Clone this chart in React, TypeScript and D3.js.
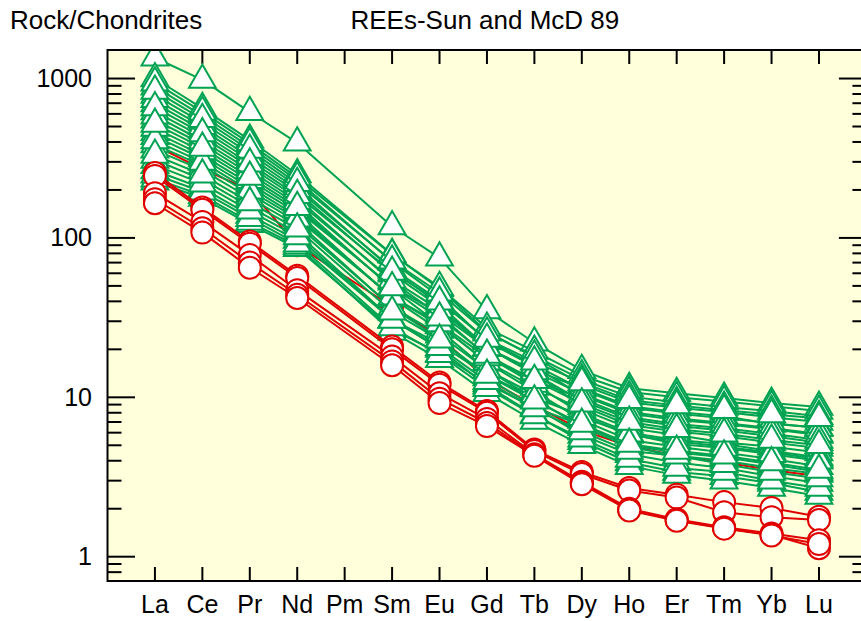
import React from "react";
import * as d3 from "d3";

// Chondrite-normalised REE spider diagram (Sun & McDonough 1989)
const ELEMENTS = ["La", "Ce", "Pr", "Nd", "Pm", "Sm", "Eu", "Gd", "Tb", "Dy", "Ho", "Er", "Tm", "Yb", "Lu"];
const Y_MAJOR = [1, 10, 100, 1000];
const Y_LABEL = "Rock/Chondrites";
const TITLE = "REEs-Sun and McD 89";

// Sample drawn beneath the triangle group (circle symbol)
const redEarly: (number | null)[][] = [
  [380, 270, 200, 90, null, 37, 24, 13, 8.9, 6.2, 4.95, 4.3, 3.9, 3.5, 3.2],
];

// Triangle group, in plotting order
const greenSamples: (number | null)[][] = [
  [1350, 980, 615, 395, null, 118, 75, 35, 22, 14.8, 11.4, 10.6, 9.9, 9.2, 8.7],
  [460, 331, 218, 144, null, 41.9, 26.4, 14.9, 9.8, 6.5, 4.9, 4.3, 4.0, 3.6, 3.3],
  [887, 586, 373, 230, null, 70.8, 42.9, 22.4, 15.6, 10.3, 7.9, 7.2, 6.8, 6.3, 5.8],
  [265, 205, 139, 97, null, 30.7, 21.6, 13.8, 9.9, 7.7, 5.8, 5.3, 4.9, 4.5, 4.1],
  [698, 476, 307, 194, null, 59.7, 37.1, 20.5, 14.0, 9.5, 7.3, 6.6, 6.2, 5.7, 5.2],
  [385, 284, 189, 126, null, 36.5, 23.3, 13.3, 8.7, 5.8, 4.4, 3.9, 3.6, 3.2, 2.9],
  [1000, 650, 411, 250, null, 79, 48.1, 25.8, 17.9, 12.0, 9.3, 8.6, 8.1, 7.5, 7.0],
  [551, 387, 253, 163, null, 48.1, 28.5, 16.5, 10.9, 7.2, 5.4, 4.9, 4.5, 4.1, 3.7],
  [225, 178, 122, 86, null, 26.7, 18.9, 12.2, 8.6, 6.7, 5.0, 4.5, 4.2, 3.8, 3.4],
  [787, 528, 339, 211, null, 63.2, 38.2, 20.5, 14.1, 8.8, 6.7, 6.1, 5.7, 5.2, 4.8],
  [434, 315, 208, 137, null, 42.8, 28.2, 16.7, 11.6, 8.4, 6.4, 5.8, 5.2, 4.9, 4.5],
  [621, 430, 279, 178, null, 53.1, 32.8, 18.1, 12.1, 7.9, 6.0, 5.4, 5.1, 4.6, 4.2],
  [308, 233, 157, 107, null, 30.9, 20.1, 11.8, 7.8, 5.3, 3.9, 3.4, 3.2, 2.9, 2.55],
  [942, 617, 392, 239, null, 78.5, 49.1, 27.2, 19.5, 13.7, 10.8, 10.0, 9.4, 8.8, 8.2],
  [489, 349, 230, 150, null, 49.6, 33.5, 20.3, 14.8, 11.4, 8.8, 8.1, 7.6, 6.8, 6.5],
  [235, 185, 126, 89, null, 25.7, 17.3, 10.6, 7.1, 5.0, 3.7, 3.25, 3.0, 2.7, 2.4],
  [741, 501, 322, 202, null, 64.4, 40.5, 22.8, 16.0, 11.2, 8.6, 7.9, 7.4, 6.9, 6.4],
  [357, 266, 178, 120, null, 36.9, 24.7, 14.9, 10.4, 7.5, 5.9, 5.1, 4.8, 4.4, 4.0],
  [585, 407, 265, 170, null, 54.5, 35.4, 20.5, 14.5, 10.5, 8.1, 7.4, 6.9, 6.4, 5.9],
  [249, 195, 133, 92, null, 27.4, 18.6, 11.4, 7.7, 5.5, 4.1, 3.6, 3.4, 3.0, 2.7],
  [836, 556, 356, 220, null, 71.8, 45.3, 25.4, 18.2, 12.9, 10.1, 9.3, 8.7, 8.2, 7.6],
  [408, 299, 198, 132, null, 42.7, 29.0, 17.8, 12.8, 9.8, 7.5, 6.8, 6.4, 5.9, 5.4],
  [659, 452, 292, 185, null, 61.1, 39.8, 23.2, 16.7, 12.4, 9.6, 8.9, 8.3, 7.8, 7.4],
  [286, 219, 148, 102, null, 30.5, 20.6, 12.6, 8.5, 6.1, 4.6, 4.3, 3.8, 3.4, 3.1],
  [519, 367, 241, 156, null, 48.9, 31.6, 18.4, 12.8, 9.1, 7.0, 6.3, 5.9, 5.4, 5.0],
  [331, 249, 167, 114, null, 34.4, 23.0, 13.8, 9.5, 6.8, 5.1, 4.6, 4.3, 3.9, 3.5],
];

// Circle group drawn on top
const redSamples: (number | null)[][] = [
  [255, 155, 95, 58, null, 20.8, 12.4, 8.2, 4.7, 3.4, 2.7, 2.45, 2.2, 2.02, 1.78],
  [245, 150, 92, 56, null, 20, 12, 8.0, 4.6, 3.3, 2.6, 2.35, 1.9, 1.77, 1.7],
  [191, 126, 78, 47, null, 18, 10.6, 7.3, 4.4, 2.95, 2.0, 1.72, 1.53, 1.4, 1.27],
  [175, 115, 70, 44, null, 16.8, 9.8, 6.9, 4.35, 2.9, 1.96, 1.7, 1.51, 1.37, 1.13],
  [165, 108, 65, 42, null, 15.9, 9.2, 6.6, 4.3, 2.85, 1.95, 1.68, 1.5, 1.36, 1.2],
];

const GREEN = "#00a352";
const RED = "#e00000";
const BG = "#ffffdc";
const FONT = "'Liberation Sans', Arial, Helvetica, sans-serif";

const W = 861;
const H = 621;
const plot = { left: 107.5, top: 50, right: 866.4, bottom: 581 };

const x = d3.scaleLinear().domain([0, ELEMENTS.length + 1]).range([plot.left, plot.right]);
const y = d3.scaleLog().domain([0.704, 1510]).range([plot.bottom, plot.top]);

const minorTicks: number[] = [0.8, 0.9];
[1, 10, 100].forEach((d) => {
  for (let k = 2; k <= 9; k++) minorTicks.push(d * k);
});

const line = d3
  .line<[number, number]>()
  .x((p) => x(p[0]))
  .y((p) => y(p[1]));

const TRIANGLE = "M0,-15.5L13.4,7.75L-13.4,7.75Z";

type Kind = "tri" | "circ";

function Sample({ values, color, kind }: { values: (number | null)[]; color: string; kind: Kind }) {
  const pts: [number, number][] = [];
  values.forEach((v, i) => {
    if (v != null) pts.push([i + 1, v]);
  });
  return (
    <g>
      <path d={line(pts) || ""} fill="none" stroke={color} strokeWidth={2} strokeLinejoin="round" />
      {pts.map(([i, v], k) =>
        kind === "tri" ? (
          <path
            key={k}
            d={TRIANGLE}
            transform={`translate(${x(i)},${y(v)})`}
            fill="#ffffff"
            stroke={color}
            strokeWidth={2}
            strokeLinejoin="miter"
          />
        ) : (
          <circle key={k} cx={x(i)} cy={y(v)} r={11} fill="#ffffff" stroke={color} strokeWidth={2} />
        )
      )}
    </g>
  );
}

export default function App() {
  return (
    <svg
      width={W}
      height={H}
      style={{ position: "absolute", left: 0, top: 0, background: "#ffffff" }}
      fontFamily={FONT}
    >
      <defs>
        <clipPath id="plotArea">
          <rect x={plot.left} y={plot.top} width={plot.right - plot.left} height={plot.bottom - plot.top} />
        </clipPath>
      </defs>
      <rect x={plot.left} y={plot.top} width={plot.right - plot.left} height={plot.bottom - plot.top} fill={BG} />

      {/* ticks */}
      <g stroke="#000" strokeWidth={2}>
        {Y_MAJOR.map((t) => (
          <g key={"M" + t}>
            <line x1={plot.left} x2={plot.left + 27.5} y1={y(t)} y2={y(t)} />
            <line x1={plot.right} x2={plot.right - 27.5} y1={y(t)} y2={y(t)} />
          </g>
        ))}
        {minorTicks.map((t) => (
          <g key={"m" + t}>
            <line x1={plot.left} x2={plot.left + 14} y1={y(t)} y2={y(t)} />
            <line x1={plot.right} x2={plot.right - 14} y1={y(t)} y2={y(t)} />
          </g>
        ))}
        {ELEMENTS.map((el, i) => (
          <g key={"x" + el}>
            <line x1={x(i + 1)} x2={x(i + 1)} y1={plot.bottom} y2={plot.bottom - 14} />
            <line x1={x(i + 1)} x2={x(i + 1)} y1={plot.top} y2={plot.top + 14} />
          </g>
        ))}
      </g>

      {/* data */}
      <g clipPath="url(#plotArea)">
        {redEarly.map((s, i) => (
          <Sample key={"re" + i} values={s} color={RED} kind="circ" />
        ))}
        {greenSamples.map((s, i) => (
          <Sample key={"g" + i} values={s} color={GREEN} kind="tri" />
        ))}
        {redSamples.map((s, i) => (
          <Sample key={"r" + i} values={s} color={RED} kind="circ" />
        ))}
      </g>

      <rect
        x={plot.left}
        y={plot.top}
        width={plot.right - plot.left}
        height={plot.bottom - plot.top}
        fill="none"
        stroke="#000"
        strokeWidth={2}
      />

      {/* labels */}
      {Y_MAJOR.map((t) => (
        <text key={"yl" + t} x={92} y={y(t) + 8.5} fontSize={25} textAnchor="end" fill="#000">
          {t}
        </text>
      ))}
      {ELEMENTS.map((el, i) => (
        <text key={"xl" + el} x={x(i + 1)} y={613} fontSize={25} textAnchor="middle" fill="#000">
          {el}
        </text>
      ))}
      <text x={10} y={29} fontSize={26} fill="#000">
        {Y_LABEL}
      </text>
      <text x={350.5} y={29} fontSize={26} fill="#000">
        {TITLE}
      </text>
    </svg>
  );
}
